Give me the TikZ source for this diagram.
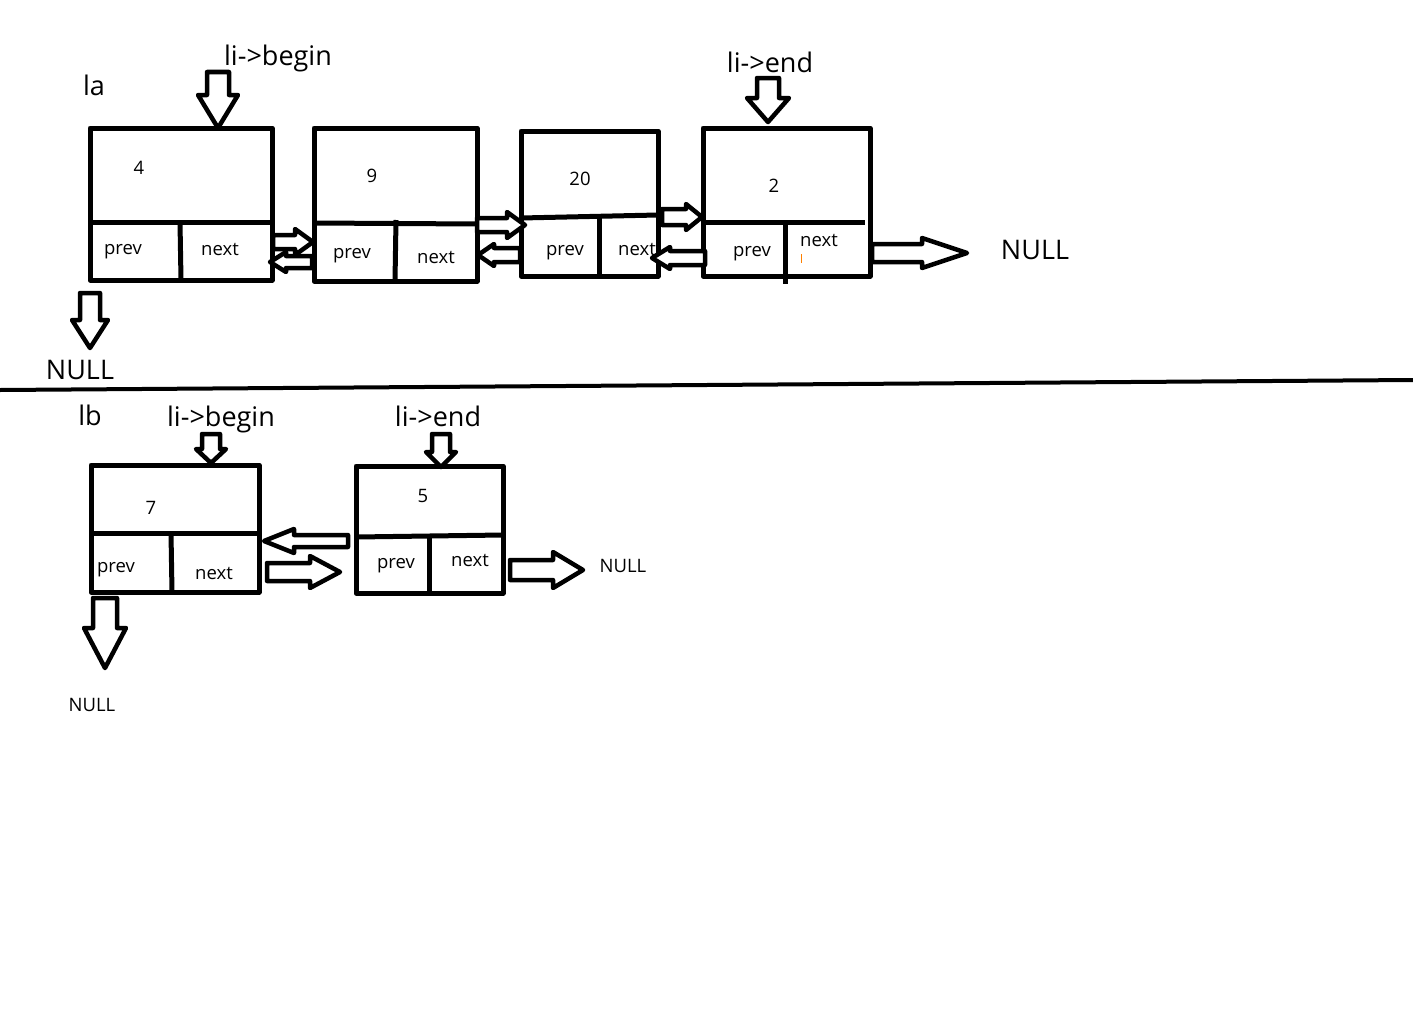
\documentclass[tikz,border=0pt]{standalone}
\usepackage{fontspec}
\setmainfont{Open Sans}
\begin{document}
\begin{tikzpicture}[x=1pt,y=-1pt,
  line join=round,
  cell/.style={draw, line width=5pt},
  divider/.style={line width=5pt},
  blockarr/.style={draw, line width=4.5pt, fill=white},
  small/.style={font=\fontsize{18.5}{20}\selectfont, inner sep=0pt, yshift=-3pt},
  big/.style={font=\fontsize{27}{30}\selectfont, inner sep=0pt}]
% hollow block arrow: tail x, tail y, angle, length, shaft half-width, head half-width, head length
\newcommand\blockarrow[7]{%
  \draw[blockarr, shift={(#1,#2)}, rotate=#3]
    (0,-#5) -- ({#4-#7},-#5) -- ({#4-#7},-#6) -- (#4,0)
    -- ({#4-#7},#6) -- ({#4-#7},#5) -- (0,#5) -- cycle;}
\useasboundingbox[fill=white] (0,0) rectangle (1413,1025);

% ---------- list la ----------
\node[big] (la) at (94,85) {la};
\node[big] (labegin) at (278,58) {li->begin};
\node[big] (laend) at (770,62) {li->end};

% node 4
\draw[cell] (90,128) rectangle (272,280);
\draw[divider] (93,222) -- (272,222);
\draw[divider] (180,222) -- (181,280);
\node[small] (v4) at (139,165) {4};
\node[small] (p4) at (123,249) {prev};
\node[small] (n4) at (220,246) {next};

% node 9
\draw[cell] (314,128) rectangle (477,281);
\draw[divider] (314,223) -- (477,224);
\draw[divider] (396,220) -- (395,281);
\node[small] (v9) at (372,173) {9};
\node[small] (p9) at (352,253) {prev};
\node[small] (n9) at (436,254) {next};

% node 20
\draw[cell] (521,131) rectangle (658,276);
\draw[divider] (521,218) -- (658,215);
\draw[divider] (599,217) -- (599,276);
\node[small] (v20) at (580,176) {20};
\node[small] (p20) at (565,250) {prev};
\node[small] (n20) at (637,246) {next};

% node 2
\draw[cell] (703,128) rectangle (870,276);
\draw[divider] (703,222) -- (865,222);
\draw[divider] (785,222) -- (785,284);
\node[small] (v2) at (774,183) {2};
\node[small] (p2) at (752,251) {prev};
\node[small] (n2) at (819,237) {next};
\draw[orange, line width=1pt] (801,254) -- (801,263);

% pointer arrows of la
\blockarrow{218}{72}{-90}{56}{11}{20}{33}
\blockarrow{768}{78}{-90}{44}{11}{21}{24}
\blockarrow{273}{242}{0}{40}{7}{13}{18}
\blockarrow{312}{262}{180}{42}{6}{10}{16}
\blockarrow{477}{225}{0}{48}{7}{13}{18}
\blockarrow{520}{255}{180}{42}{7}{11}{16}
\blockarrow{662}{217}{0}{40}{8}{13}{16}
\blockarrow{705}{258}{180}{53}{7}{11}{18}
\blockarrow{872}{253}{0}{95}{9}{15}{45}
\blockarrow{90}{293}{-90}{55}{10}{18}{28}
\node[big] (nullR) at (1035,250) {NULL};
\node[big] (nullD) at (80,370) {NULL};

% separator
\draw[line width=4pt] (0,390) -- (1413,380);

% ---------- list lb ----------
\node[big] (lb) at (90,415) {lb};
\node[big] (lbbegin) at (221,419) {li->begin};
\node[big] (lbend) at (438,416) {li->end};

% node 7
\draw[cell] (91,465) rectangle (259,592);
\draw[divider] (91,533) -- (259,533);
\draw[divider] (171,533) -- (172,592);
\node[small] (v7) at (151,505) {7};
\node[small] (p7) at (116,567) {prev};
\node[small] (n7) at (214,570) {next};

% node 5
\draw[cell] (356,466) rectangle (503,593);
\draw[divider] (356,537) -- (503,535);
\draw[divider] (429,537) -- (429,593);
\node[small] (v5) at (423,493) {5};
\node[small] (p5) at (396,563) {prev};
\node[small] (n5) at (470,557) {next};

% pointer arrows of lb
\blockarrow{211}{434}{-90}{29}{9}{15}{14}
\blockarrow{441}{434}{-90}{33}{9}{15}{15}
\blockarrow{348}{541}{180}{84}{6}{12}{30}
\blockarrow{267}{572}{0}{73}{9}{16}{30}
\blockarrow{510}{570}{0}{73}{10}{18}{30}
\blockarrow{105}{598}{-90}{70}{12}{21}{40}
\node[small] (nullR2) at (623,563) {NULL};
\node[small] (nullD2) at (92,702) {NULL};
\end{tikzpicture}
\end{document}
